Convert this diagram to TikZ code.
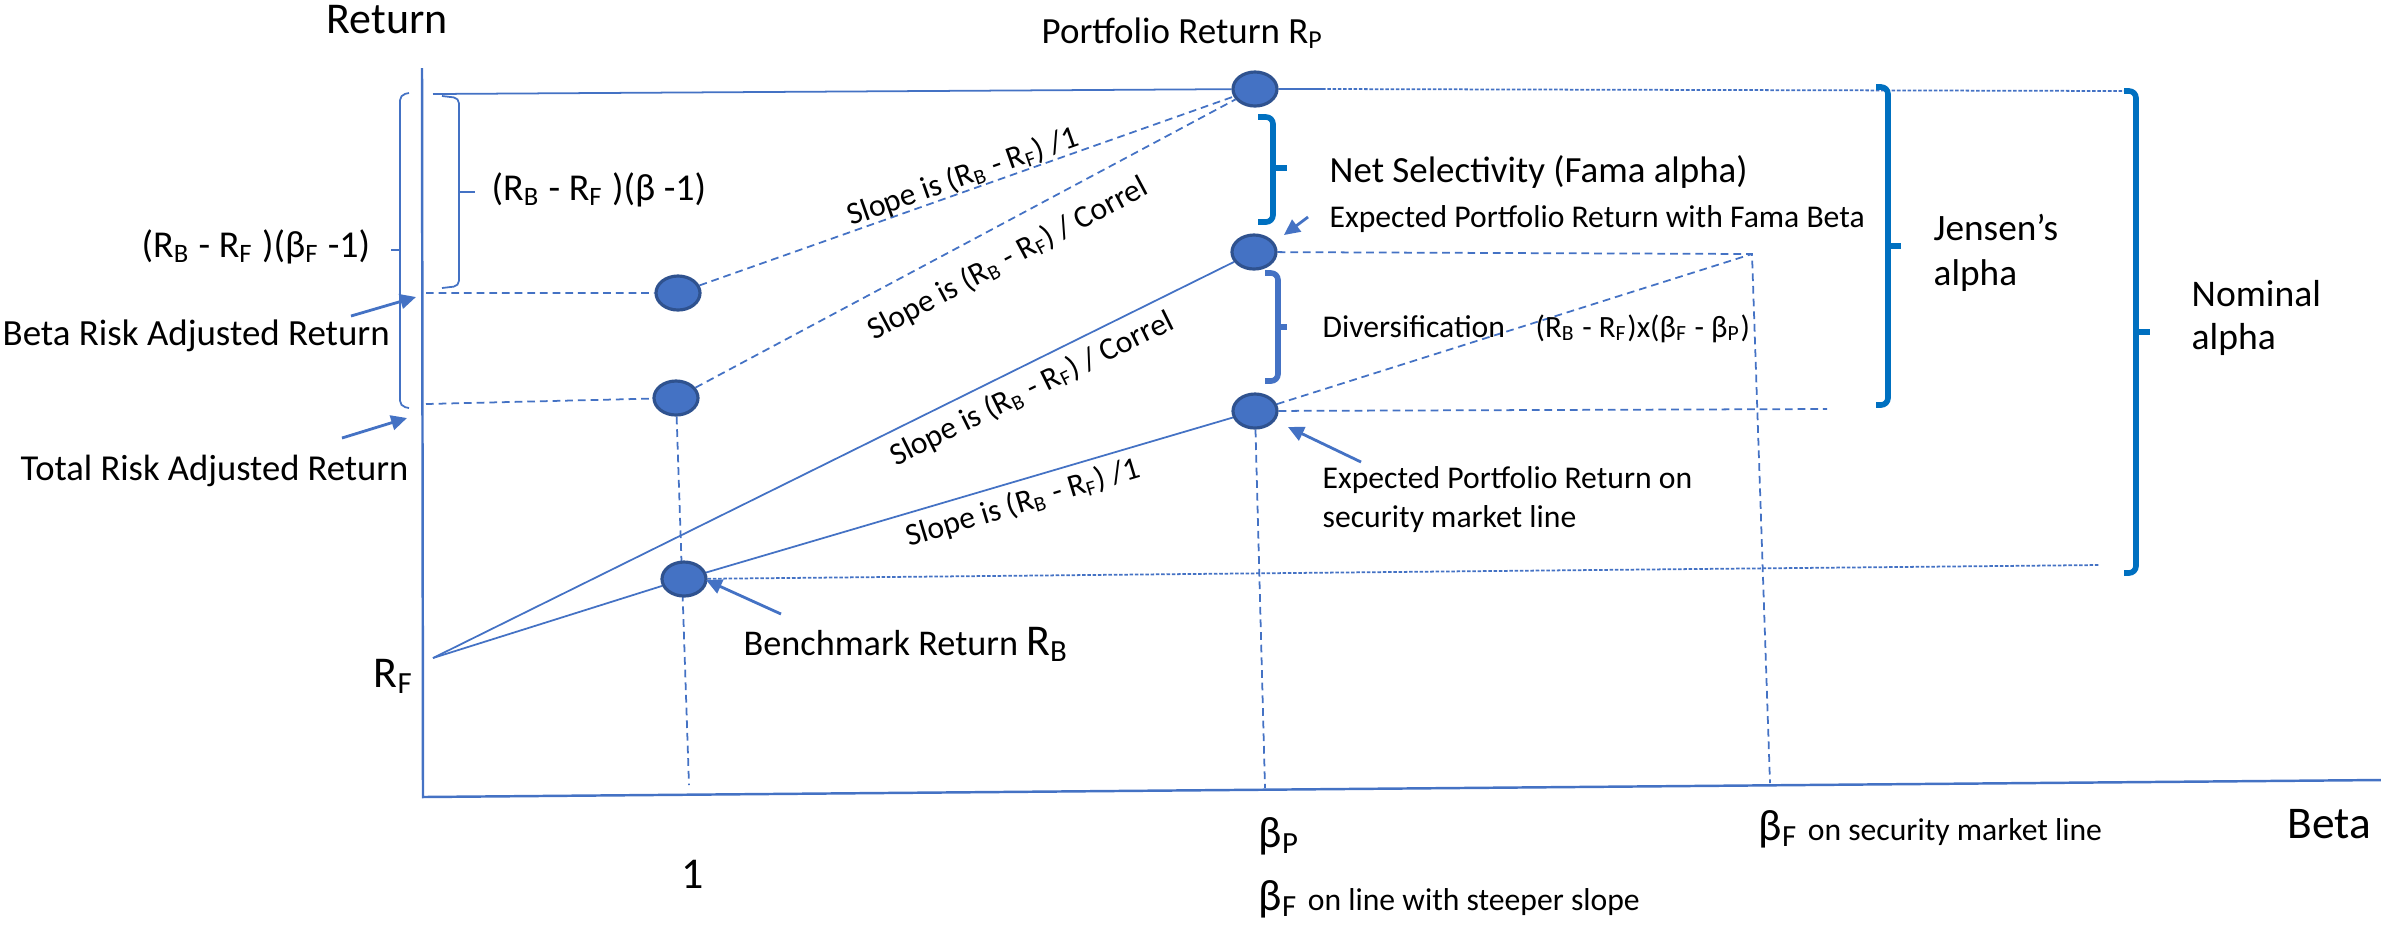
\documentclass[tikz,border=0pt]{standalone}
\usepackage{fontspec}
\setmainfont{Carlito}
\usetikzlibrary{arrows.meta,shapes.geometric}
\definecolor{lblue}{RGB}{68,114,196}
\definecolor{dblue}{RGB}{47,82,143}
\definecolor{bblue}{RGB}{0,112,192}
\pgfdeclarelayer{bg}
\pgfsetlayers{bg,main}
\newcommand{\fs}[2]{\fontsize{#1}{#2}\selectfont}
\newcommand{\sbs}[1]{\textsubscript{#1}}

\begin{document}
\begin{tikzpicture}[x=0.01cm,y=-0.01cm,
  every node/.style={inner sep=0pt, text=black},
  lbl/.style={anchor=base west},
  axisline/.style={draw=lblue, line width=0.7pt},
  solidln/.style={draw=lblue, line width=0.5pt},
  dashln/.style={solidln, dash pattern=on 2.2pt off 1.4pt},
  dotln/.style={solidln, dash pattern=on 1pt off 0.5pt},
  dotnode/.style={ellipse, fill=lblue, draw=dblue, line width=0.9pt,
                  minimum width=0.44cm, minimum height=0.34cm},
  thinbrace/.style={draw=lblue, line width=0.5pt, rounded corners=1.5pt},
  bracket/.style={draw=bblue, line width=1.6pt, rounded corners=2pt},
  pointer/.style={draw=lblue, line width=0.8pt, -{Triangle[length=4.5pt,width=4.2pt]}},
  slope/.style={font=\fs{9pt}{11pt}},
]
\useasboundingbox (0,0) rectangle (2381,929);

% points on the chart
\node[dotnode] (dP)  at (1255,89)  {};
\node[dotnode] (dF)  at (1254,252) {};
\node[dotnode] (dS)  at (1255,411) {};
\node[dotnode] (dBr) at (678,293)  {};
\node[dotnode] (dTr) at (676,398)  {};
\node[dotnode] (dB)  at (684,579)  {};

% helper coordinates
\coordinate (yTop) at (422,68);
\coordinate (O) at (423,797);
\coordinate (xEnd) at (2381,780);
\coordinate (RF) at (433,658);
\coordinate (topL) at (433,94);
\coordinate (dPr) at (1322,89);
\coordinate (nomTop) at (2125,91);
\coordinate (brL) at (426,293);
\coordinate (trL) at (426,404);
\coordinate (bEnd) at (2100,565);
\coordinate (fR) at (1752,254);
\coordinate (fBot) at (1770,783);
\coordinate (sR) at (1827,409);
\coordinate (sBot) at (1265,788);
\coordinate (oneBot) at (689,785);

\begin{pgfonlayer}{bg}
  % axes
  \draw[axisline] (yTop) -- (O) -- (xEnd);
  % portfolio return level
  \draw[solidln] (topL) -- (dP) -- (dPr);
  \draw[dotln] (dPr) -- (nomTop);
  % risk adjusted returns
  \draw[dashln] (brL) -- (dBr) -- (dP);
  \draw[dashln] (trL) -- (dTr);
  \draw[dashln] (dTr) -- (dP);
  \draw[dashln] (dTr) -- (oneBot);
  % lines from the risk free rate
  \draw[solidln] (RF) -- (dF);
  \draw[solidln] (RF) -- (dB) -- (dS);
  \draw[dotln] (dB) -- (bEnd);
  % Fama beta construction
  \draw[dashln] (dF) -- (fR) -- (fBot);
  \draw[dashln] (dS) -- (fR);
  \draw[dashln] (dS) -- (sR);
  \draw[dashln] (dS) -- (sBot);
\end{pgfonlayer}

% thin braces at the return axis
\draw[thinbrace] (409,93) -- (400,95) -- (400,406) -- (409,408);
\draw[thinbrace] (400,250) -- (391,250);
\draw[thinbrace] (442,96) -- (459,98) -- (459,286) -- (442,288);
\draw[thinbrace] (459,192) -- (475,192);

% alpha brackets
\draw[bracket] (1258,117) -- (1273,117) -- (1273,222) -- (1258,222);
\draw[bracket] (1273,168) -- (1287,168);
\draw[bracket, draw=lblue] (1265,273) -- (1278,273) -- (1278,381) -- (1265,381);
\draw[bracket, draw=lblue] (1278,327) -- (1287,327);
\draw[bracket] (1876,87) -- (1888,87) -- (1888,405) -- (1876,405);
\draw[bracket] (1888,246) -- (1901,246);
\draw[bracket] (2124,91) -- (2136,91) -- (2136,573) -- (2124,573);
\draw[bracket] (2136,332) -- (2150,332);

% pointers
\coordinate (aBrT) at (351,316); \coordinate (aBrH) at (416,297);
\coordinate (aTrT) at (342,438); \coordinate (aTrH) at (407,418);
\coordinate (aBT) at (781,614);  \coordinate (aBH) at (706,580);
\coordinate (aFT) at (1308,217); \coordinate (aFH) at (1284,235);
\coordinate (aST) at (1361,462); \coordinate (aSH) at (1288,427);
\draw[pointer] (aBrT) -- (aBrH);
\draw[pointer] (aTrT) -- (aTrH);
\draw[pointer] (aBT) -- (aBH);
\draw[pointer] (aFT) -- (aFH);
\draw[pointer] (aST) -- (aSH);

% labels
\node[lbl, font=\fs{12.5pt}{15pt}] (tRet) at (326,33) {Return};
\node[lbl, font=\fs{10.8pt}{13pt}] (tBF) at (141,257) {(R\sbs{B} - R\sbs{F} )(β\sbs{F} -1)};
\node[lbl, font=\fs{10.8pt}{13pt}] (tB1) at (491,200) {(R\sbs{B} - R\sbs{F} )(β -1)};
\node[lbl, font=\fs{10.5pt}{13pt}] (tBR) at (2,345) {Beta Risk Adjusted Return};
\node[lbl, font=\fs{10.4pt}{13pt}] (tTR) at (20,480) {Total Risk Adjusted Return};
\node[lbl, font=\fs{12.5pt}{15pt}] (tRF) at (373,687) {R\sbs{F}};
\node[anchor=base, font=\fs{12.5pt}{15pt}] (tOne) at (693,888) {1};
\node[lbl, font=\fs{12.5pt}{15pt}] (tBench) at (743,655) {{\fs{10.3pt}{12pt}Benchmark Return }R\sbs{B}};
\node[lbl, font=\fs{10.5pt}{13pt}] (tPort) at (1041,43) {Portfolio Return R\sbs{P}};
\node[lbl, font=\fs{10.5pt}{13pt}] (tNet) at (1329,182) {Net Selectivity (Fama alpha)};
\node[lbl, font=\fs{9pt}{11pt}] (tFama) at (1329,227) {Expected Portfolio Return with Fama Beta};
\node[anchor=west, align=left, font=\fs{10.6pt}{12.8pt}] (tJen) at (1933,253) {Jensen’s\\alpha};
\node[anchor=west, align=left, font=\fs{10.7pt}{12.2pt}] (tNom) at (2191,318) {Nominal\\alpha};
\node[lbl, font=\fs{9pt}{11pt}] (tDiv) at (1322,337) {Diversification};
\node[lbl, font=\fs{8.8pt}{11pt}] (tDiff) at (1535,337) {(R\sbs{B} - R\sbs{F})x(β\sbs{F} - β\sbs{P})};
\node[anchor=west, align=left, font=\fs{9pt}{11.1pt}] (tSML) at (1322,500) {Expected Portfolio Return on\\security market line};
\node[lbl, font=\fs{12.5pt}{15pt}] (tBP) at (1258,847) {β\sbs{P}};
\node[lbl, font=\fs{12.5pt}{15pt}] (tBFs) at (1258,910) {β\sbs{F} {\fs{9pt}{11pt}on line with steeper slope}};
\node[lbl, font=\fs{12.5pt}{15pt}] (tBFm) at (1758,840) {β\sbs{F} {\fs{9pt}{11pt}on security market line}};
\node[lbl, font=\fs{12.9pt}{15pt}] (tBeta) at (2287,838) {Beta};

% slope labels along the lines
\node[slope, rotate=19.5] (sl1) at (963,177) {Slope is (R\sbs{B} - R\sbs{F}) /1};
\node[slope, rotate=28.1] (sl2) at (1008,259) {Slope is (R\sbs{B} - R\sbs{F}) / Correl};
\node[slope, rotate=26.3] (sl3) at (1032,389) {Slope is (R\sbs{B} - R\sbs{F}) / Correl};
\node[slope, rotate=16.8] (sl4) at (1023,503) {Slope is (R\sbs{B} - R\sbs{F}) /1};
\end{tikzpicture}
\end{document}
